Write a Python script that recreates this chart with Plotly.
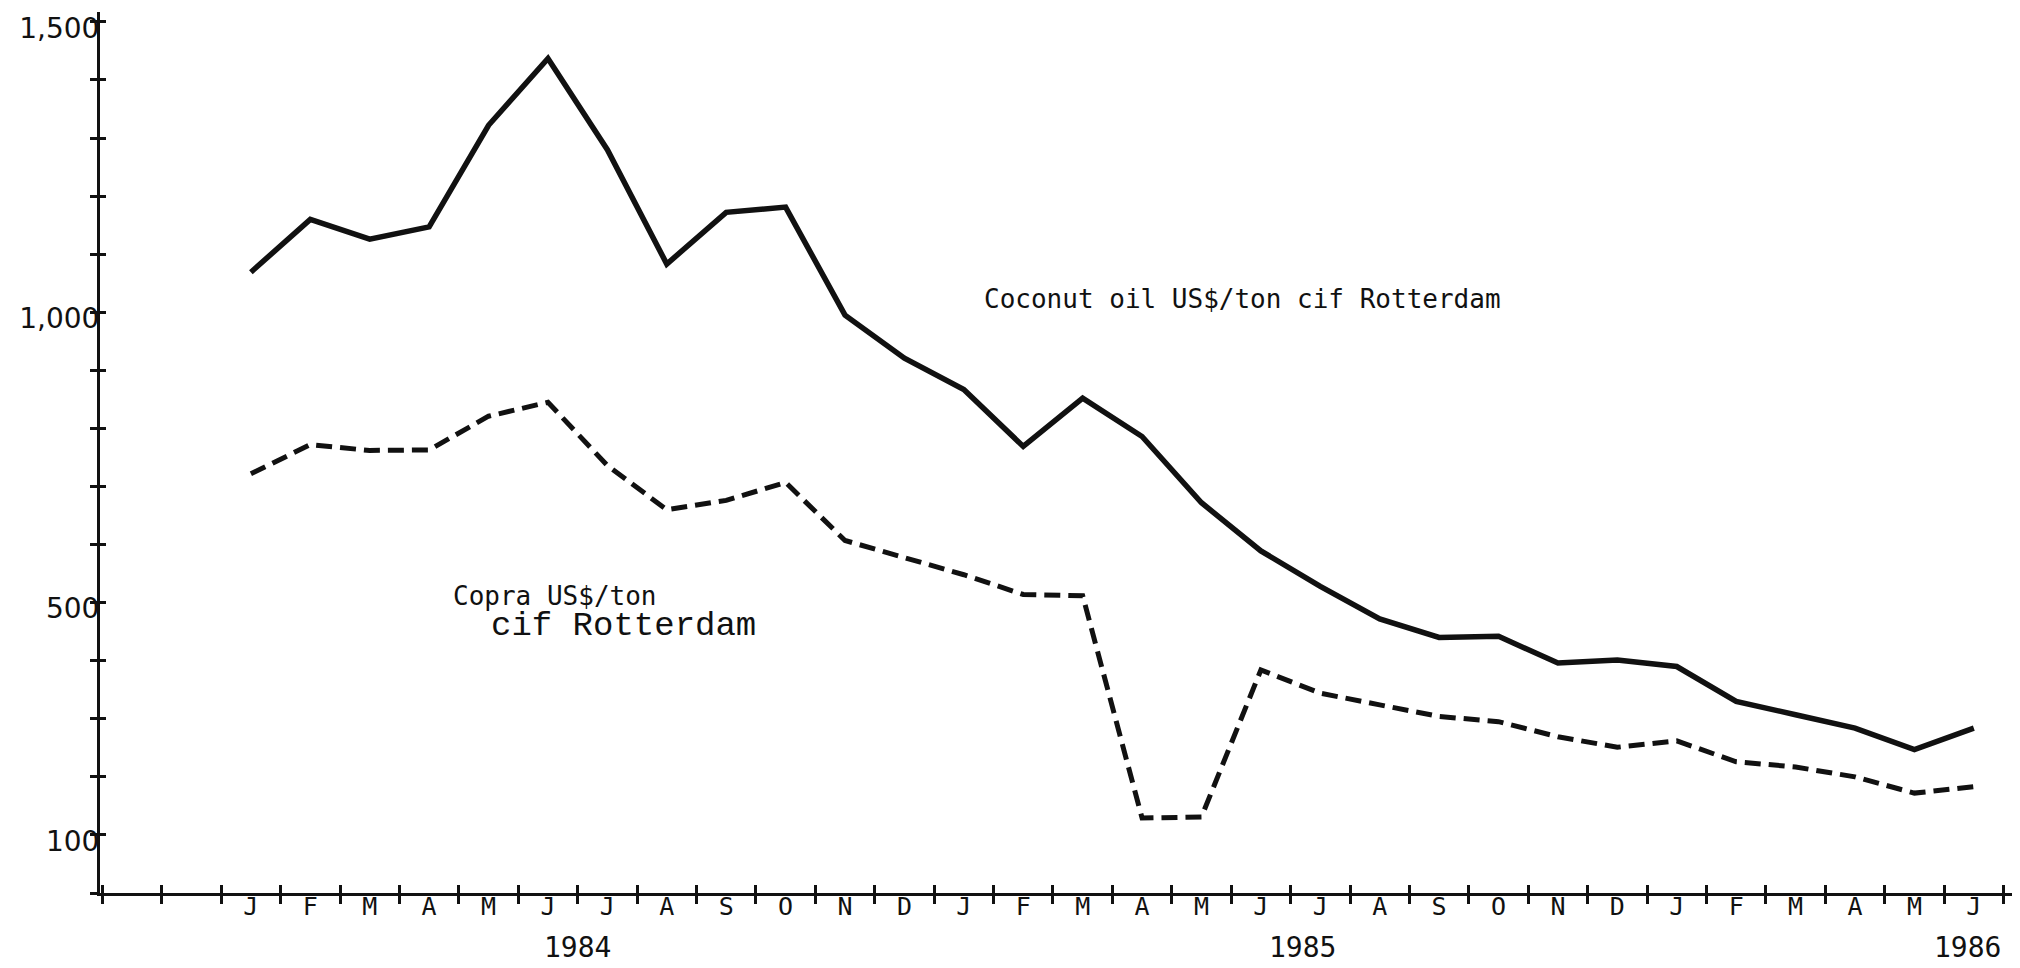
import plotly.graph_objects as go

# ---- data (monthly, Jan 1984 .. Jun 1986) ----
month_letters = ["J", "F", "M", "A", "M", "J", "J", "A", "S", "O", "N", "D",
                 "J", "F", "M", "A", "M", "J", "J", "A", "S", "O", "N", "D",
                 "J", "F", "M", "A", "M", "J"]
month_index = list(range(len(month_letters)))

coconut_oil = [1069, 1160, 1126, 1147, 1322, 1437, 1280, 1083, 1172, 1181, 995, 921,
               867, 769, 852, 786, 672, 589, 528, 472, 440, 442, 396, 401,
               390, 330, 307, 284, 247, 284]
copra = [722, 772, 762, 763, 821, 845, 736, 660, 676, 707, 607, 578,
         548, 514, 512, 129, 131, 384, 344, 324, 304, 295, 269, 251,
         262, 226, 217, 200, 172, 183]

years = ["1984", "1985", "1986"]
year_pos = [5.5, 17.7, 28.9]

y_tick_vals = list(range(0, 1501, 100))
y_tick_text = ["" if v not in (100, 500, 1000, 1500) else f"{v:,}" for v in y_tick_vals]
x_boundaries = [i - 0.5 for i in range(-2, 31)]

X_RANGE = [-2.54, 29.71]
Y_RANGE = [0, 1517]
INK = "#111111"

fig = go.Figure()
fig.add_trace(go.Scatter(x=month_index, y=coconut_oil, mode="lines",
                         line=dict(color=INK, width=5.5), showlegend=False,
                         name="Coconut oil"))
fig.add_trace(go.Scatter(x=month_index, y=copra, mode="lines", xaxis="x2", yaxis="y2",
                         line=dict(color=INK, width=5, dash="16px,8px"),
                         showlegend=False, name="Copra"))

# the page body has an 8px margin, so the figure is 8px smaller than the window
fig.update_layout(
    template="none",
    width=2012, height=960,
    margin=dict(l=92, r=4, t=4, b=75, pad=0),
    paper_bgcolor="white", plot_bgcolor="white",
    xaxis=dict(range=X_RANGE, showline=True, linewidth=3, linecolor=INK,
               showgrid=False, zeroline=False, automargin=False,
               tickmode="array", tickvals=month_index, ticktext=month_letters,
               ticks="", ticklabelstandoff=-11, ticklabeloverflow="allow",
               tickfont=dict(family="DejaVu Sans Mono", size=25, color=INK),
               minor=dict(tickmode="array", tickvals=x_boundaries, ticks="outside",
                          ticklen=8, tickwidth=2.5, tickcolor=INK, showgrid=False)),
    xaxis2=dict(range=X_RANGE, overlaying="x", anchor="y2", side="bottom",
                showline=False, showgrid=False, zeroline=False, automargin=False,
                tickmode="array", tickvals=x_boundaries, ticks="inside",
                ticklen=8, tickwidth=2.5, tickcolor=INK, showticklabels=False),
    yaxis=dict(range=Y_RANGE, showline=True, linewidth=3, linecolor=INK,
               showgrid=False, zeroline=False, automargin=False,
               tickmode="array", tickvals=y_tick_vals, ticktext=y_tick_text,
               ticks="outside", ticklen=7, tickwidth=2.5, tickcolor=INK,
               ticklabelstandoff=-15, ticklabelshift=6, ticklabeloverflow="allow",
               tickfont=dict(family="DejaVu Sans", size=28, color=INK)),
    yaxis2=dict(range=Y_RANGE, overlaying="y", anchor="x2", side="left",
                showline=False, showgrid=False, zeroline=False, automargin=False,
                tickmode="array", tickvals=y_tick_vals, ticks="inside",
                ticklen=6, tickwidth=2.5, tickcolor=INK, showticklabels=False),
)

annotations = [
    dict(x=12.3, y=1023, xref="x", yref="y", text="Coconut oil US$/ton cif Rotterdam",
         showarrow=False, xanchor="left", yanchor="middle",
         font=dict(family="DejaVu Sans Mono", size=26, color=INK)),
    dict(x=3.37, y=511, xref="x", yref="y", text="Copra US$/ton",
         showarrow=False, xanchor="left", yanchor="middle",
         font=dict(family="DejaVu Sans Mono", size=26, color=INK)),
    dict(x=4.0, y=460, xref="x", yref="y", text="cif Rotterdam",
         showarrow=False, xanchor="left", yanchor="middle",
         font=dict(family="Liberation Mono", size=34, color=INK)),
]
for yr, pos in zip(years, year_pos):
    annotations.append(dict(x=pos, y=-0.0624, xref="x", yref="paper", text=yr,
                            showarrow=False, xanchor="center", yanchor="middle",
                            font=dict(family="DejaVu Sans Mono", size=28, color=INK)))
fig.update_layout(annotations=annotations)

fig.write_html("out.html")
